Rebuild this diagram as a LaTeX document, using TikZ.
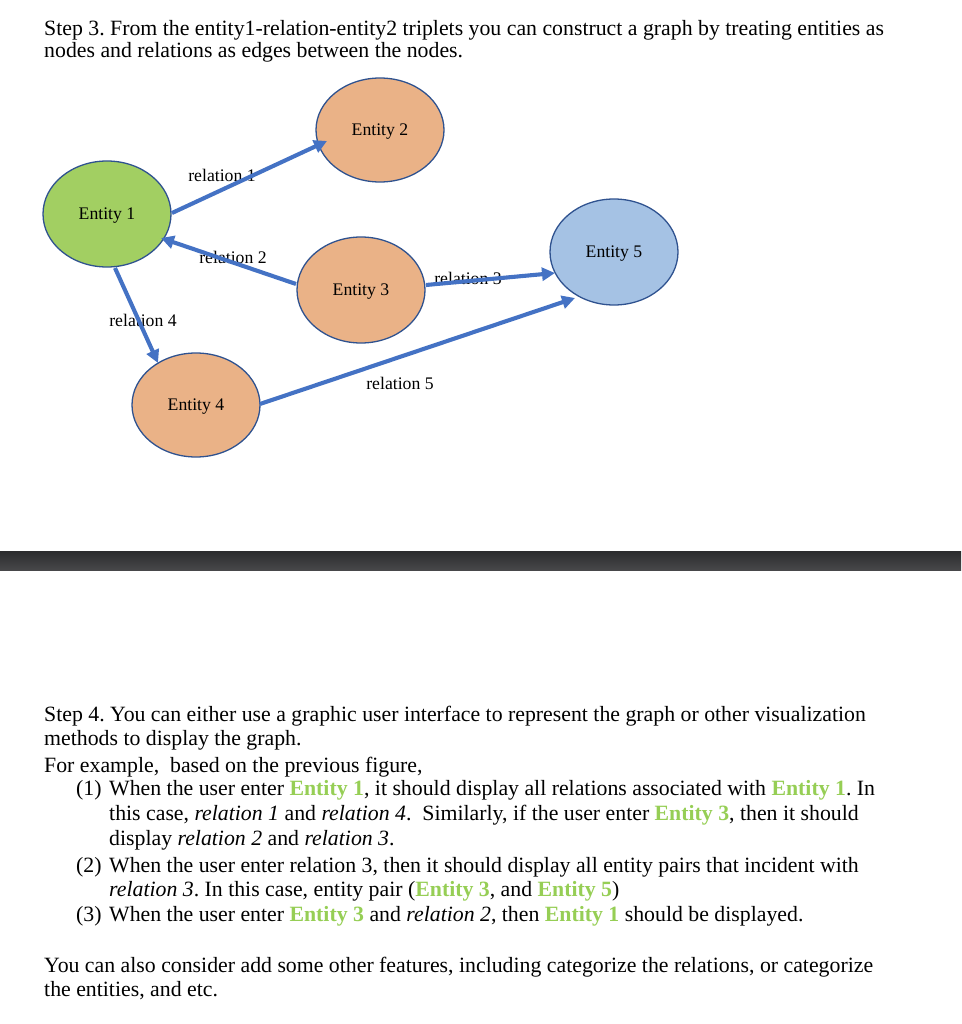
\documentclass[tikz,border=0pt]{standalone}
\usepackage{fontspec}
\setmainfont{Liberation Serif}
\usetikzlibrary{arrows.meta,calc,shapes.geometric}
\definecolor{edgeblue}{HTML}{4472C4}
\definecolor{rimblue}{HTML}{2F528F}
\definecolor{entgreen}{HTML}{A2CF62}
\definecolor{entorange}{HTML}{EAB287}
\definecolor{entblue}{HTML}{A5C2E4}
\definecolor{txtgreen}{HTML}{96CE55}
\definecolor{barA}{HTML}{2B2B2D}
\definecolor{barB}{HTML}{55585C}
\definecolor{barC}{HTML}{47484A}
\newcommand{\G}[1]{\textcolor{txtgreen}{\textbf{#1}}}
\frenchspacing
\begin{document}
\begin{tikzpicture}[x=1pt,y=-1pt,
  ent/.style={ellipse, draw=rimblue, line width=1.3pt, minimum width=128pt, minimum height=104pt, inner sep=0pt, text depth=0pt, font=\fontsize{17.7}{20}\selectfont},
  rel/.style={font=\fontsize{17.7}{20}\selectfont, inner sep=0pt},
  edge/.style={draw=edgeblue, line width=4.1pt, -{Triangle[length=13pt,width=13pt]}},
  txt/.style={anchor=base west, inner sep=0pt, font=\fontsize{21.8}{25}\selectfont}]
\useasboundingbox (0,0) rectangle (961,1024);
% title
\node[txt] (t1) at (44,36) {Step 3. From the entity1-relation-entity2 triplets you can construct a graph by treating entities as};
\node[txt] (t2) at (44,58) {nodes and relations as edges between the nodes.};
% entities
\node[ent, fill=entorange] (e2) at (380,130) {Entity 2};
\node[ent, fill=entgreen, minimum height=106pt] (e1) at (107,214) {Entity 1};
\node[ent, fill=entorange, minimum height=106pt] (e3) at (361,290) {Entity 3};
\node[ent, fill=entorange] (e4) at (196,405) {Entity 4};
\node[ent, fill=entblue, minimum height=106pt] (e5) at (614,252) {Entity 5};
% relation labels
\node[rel] (r1) at (222,175) {relation 1};
\node[rel] (r2) at (233,257) {relation 2};
\node[rel] (r3) at (468,278) {relation 3};
\node[rel] (r4) at (143,320) {relation 4};
\node[rel] (r5) at (400,383) {relation 5};
% edges
\draw[edge] ($(e1)+(65,-1)$) -- ($(e2)+(-53,11)$);
\draw[edge] ($(e3)+(-65,-6)$) -- ($(e1)+(54,24)$);
\draw[edge] ($(e3)+(65,-5)$) -- ($(e5)+(-59,21)$);
\draw[edge] ($(e1)+(8,54)$) -- ($(e4)+(-38,-42)$);
\draw[edge] ($(e4)+(64,-1)$) -- ($(e5)+(-39,46)$);
% dark bar
\shade[top color=barA, middle color=barB, bottom color=barC] (0,551) rectangle (961,570);
% step 4
\node[txt] (s1) at (44,721) {Step 4. You can either use a graphic user interface to represent the graph or other visualization};
\node[txt] (s2) at (44,745) {methods to display the graph.};
\node[txt] (s3) at (44,772) {For example,\ \ based on the previous figure,};
\node[txt] (n1) at (76,795) {(1)};
\node[txt] (a1) at (109,795) {When the user enter \G{Entity 1}, it should display all relations associated with \G{Entity 1}. In};
\node[txt] (a2) at (109,820) {this case, \textit{relation 1} and \textit{relation 4}.\ \ Similarly, if the user enter \G{Entity 3}, then it should};
\node[txt] (a3) at (109,845) {display \textit{relation 2} and \textit{relation 3}.};
\node[txt] (n2) at (76,872) {(2)};
\node[txt] (b1) at (109,872) {When the user enter relation 3, then it should display all entity pairs that incident with};
\node[txt] (b2) at (109,896) {\textit{relation 3}. In this case, entity pair (\G{Entity 3}, and \G{Entity 5})};
\node[txt] (n3) at (76,921) {(3)};
\node[txt] (c1) at (109,921) {When the user enter \G{Entity 3} and \textit{relation 2}, then \G{Entity 1} should be displayed.};
\node[txt] (f1) at (44,972) {You can also consider add some other features, including categorize the relations, or categorize};
\node[txt] (f2) at (44,996) {the entities, and etc.};
\end{tikzpicture}
\end{document}
